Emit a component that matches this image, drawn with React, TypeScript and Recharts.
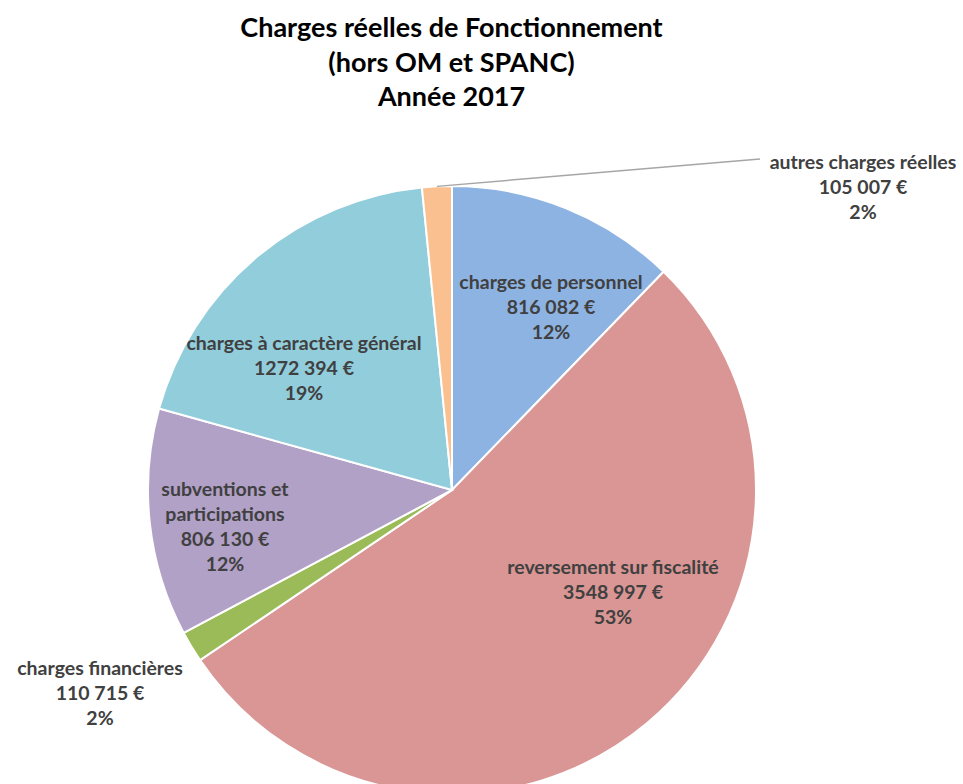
import { PieChart, Pie, Cell } from "recharts";

const categories = [
  "charges de personnel",
  "reversement sur fiscalité",
  "charges financières",
  "subventions et\nparticipations",
  "charges à caractère général",
  "autres charges réelles",
];
const amounts = [816082, 3548997, 110715, 806130, 1272394, 105007];
const titleLines = [
  "Charges réelles de Fonctionnement",
  "(hors OM et SPANC)",
  "Année 2017",
];

const COLORS = ["#8DB3E2", "#D99694", "#9BBB59", "#B2A1C7", "#92CDDC", "#FAC08F"];
const TEXT = "#404040";
const FONT = "Lato, 'Open Sans', sans-serif";

// where each label block sits, relative to the pie centre
const LABEL_POS: Record<number, [number, number]> = {
  0: [99, -184],
  1: [161, 101],
  2: [-352, 202],
  3: [-227, 35],
  4: [-148, -123],
  5: [411, -304],
};

const LINE_H = 25;

const data = categories.map((name, i) => ({ name, value: amounts[i] }));

const fmt = (v: number) => `${Math.floor(v / 1000)} ${String(v % 1000).padStart(3, "0")} €`;

const renderLabel = (props: any) => {
  const { cx, cy, index, name, value, percent } = props;
  const [dx, dy] = LABEL_POS[index];
  const lines = [...String(name).split("\n"), fmt(value), `${Math.round(percent * 100)}%`];
  const x = cx + dx;
  const top = cy + dy - ((lines.length - 1) * LINE_H) / 2;
  return (
    <text
      x={x}
      y={top}
      textAnchor="middle"
      dominantBaseline="central"
      fill={TEXT}
      fontFamily={FONT}
      fontWeight={700}
      fontSize={19.5}
    >
      {lines.map((l, i) => (
        <tspan key={i} x={x} y={top + i * LINE_H}>
          {l}
        </tspan>
      ))}
    </text>
  );
};

const renderLabelLine = (props: any) => {
  const { cx, cy, midAngle, outerRadius, index } = props;
  if (index !== 5) return <g />;
  const rad = (Math.PI / 180) * midAngle;
  const sx = cx + outerRadius * Math.cos(rad);
  const sy = cy - outerRadius * Math.sin(rad);
  const [dx, dy] = LABEL_POS[index];
  const ex = cx + dx - 103;
  const ey = cy + dy - LINE_H - 2;
  return <path d={`M${sx},${sy} L${ex},${ey}`} stroke="#A6A6A6" strokeWidth={1.5} fill="none" />;
};

export default function App() {
  return (
    <div
      style={{
        position: "absolute",
        left: 0,
        top: 0,
        width: 963,
        height: 784,
        background: "#fff",
        overflow: "hidden",
      }}
    >
      <div
        style={{
          position: "absolute",
          left: 0,
          top: 10,
          width: 903,
          textAlign: "center",
          fontFamily: FONT,
          fontWeight: 700,
          fontSize: 27,
          lineHeight: "34.5px",
          color: "#000",
        }}
      >
        {titleLines.map((t) => (
          <div key={t}>{t}</div>
        ))}
      </div>
      <PieChart width={963} height={784} style={{ position: "absolute", left: 0, top: 0 }}>
        <Pie
          data={data}
          dataKey="value"
          nameKey="name"
          cx={447}
          cy={485}
          outerRadius={304}
          startAngle={90}
          endAngle={-270}
          stroke="#fff"
          strokeWidth={2}
          label={renderLabel}
          labelLine={renderLabelLine}
          isAnimationActive={false}
        >
          {data.map((d, i) => (
            <Cell key={d.name} fill={COLORS[i]} />
          ))}
        </Pie>
      </PieChart>
    </div>
  );
}
